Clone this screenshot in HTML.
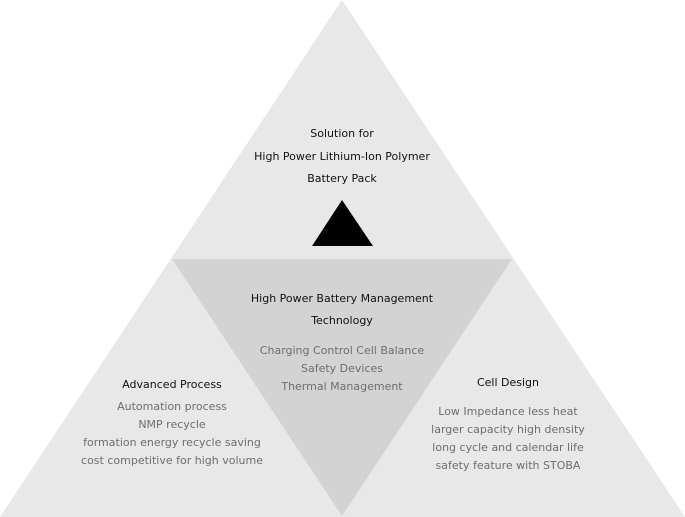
<!DOCTYPE html>
<html><head><meta charset="utf-8"><style>
body{margin:0;background:#fff;}
svg{display:block}
text{font-family:"DejaVu Sans","Liberation Sans",sans-serif;font-size:11px;text-anchor:middle}
.h{fill:#111}
.s{fill:#6e6e6e}
</style></head><body>
<svg width="685" height="517" viewBox="0 0 685 517">
<polygon points="342,0 685,517 0,517" fill="#e8e8e8"/>
<polygon points="172,259 512,259 342,516" fill="#d3d3d3"/>
<polygon points="342,200 373,246 312,246" fill="#000"/>
<text class="h" x="342" y="137">Solution for</text>
<text class="h" x="342" y="160">High Power Lithium-Ion Polymer</text>
<text class="h" x="342" y="182">Battery Pack</text>
<text class="h" x="342" y="302">High Power Battery Management</text>
<text class="h" x="342" y="324">Technology</text>
<text class="s" x="342" y="354">Charging Control  Cell Balance</text>
<text class="s" x="342" y="372">Safety Devices</text>
<text class="s" x="342" y="390">Thermal Management</text>
<text class="h" x="172" y="388">Advanced Process</text>
<text class="s" x="172" y="410">Automation process</text>
<text class="s" x="172" y="428">NMP recycle</text>
<text class="s" x="172" y="446">formation energy recycle saving</text>
<text class="s" x="172" y="464">cost competitive for high volume</text>
<text class="h" x="508" y="386">Cell Design</text>
<text class="s" x="508" y="415">Low Impedance less heat</text>
<text class="s" x="508" y="433">larger capacity high density</text>
<text class="s" x="508" y="451">long cycle and calendar life</text>
<text class="s" x="508" y="469">safety feature with STOBA</text>
</svg>
</body></html>
